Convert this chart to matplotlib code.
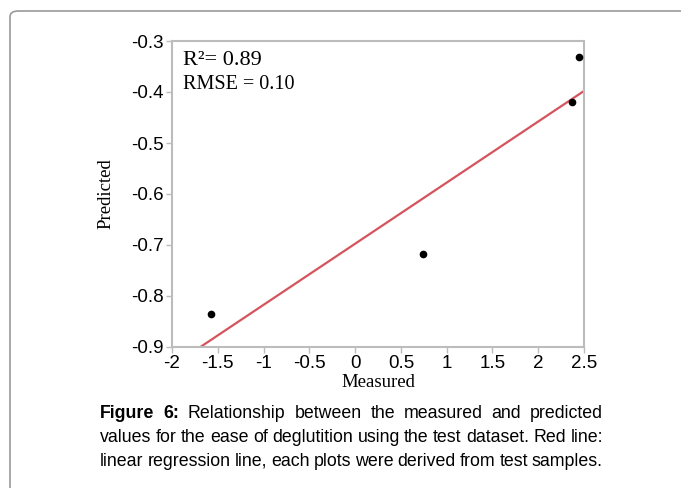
import matplotlib
matplotlib.use('Agg')
import matplotlib.pyplot as plt
from matplotlib.patches import FancyBboxPatch

# measured vs predicted (test samples)
measured = [-1.57, 0.74, 2.37, 2.44]
predicted = [-0.835, -0.717, -0.420, -0.331]

# regression line drawn across the plot
line_x = [-1.69, 2.5]
line_y = [-0.90, -0.398]

xticks = [-2, -1.5, -1, -0.5, 0, 0.5, 1, 1.5, 2, 2.5]
yticks = [-0.9, -0.8, -0.7, -0.6, -0.5, -0.4, -0.3]

caption = [
    "Figure 6: Relationship between the measured and predicted",
    "values for the ease of deglutition using the test dataset. Red line:",
    "linear regression line, each plots were derived from test samples.",
]

W, H = 681, 488
fig = plt.figure(figsize=(W / 100, H / 100), dpi=100)

# rounded frame round the figure (right and bottom edges off the picture)
frame = FancyBboxPatch((10 / W, -0.2), 1.2, 1.2 - 11 / H,
                       boxstyle="round,pad=0,rounding_size=0.012",
                       transform=fig.transFigure, fill=False,
                       edgecolor='#9a9a9a', linewidth=1.2)
fig.patches.append(frame)

ax = fig.add_axes([172 / W, 1 - 347 / H, 412 / W, 306 / H])
ax.plot(line_x, line_y, color='#d4545e', linewidth=1.6, zorder=2)
ax.plot(measured, predicted, 'o', color='black', markersize=4.5, zorder=3)

ax.set_xlim(-2, 2.5)
ax.set_ylim(-0.9, -0.3)
ax.set_xticks(xticks)
ax.set_xticklabels([f"{t:g}" for t in xticks])
ax.set_yticks(yticks)
ax.set_yticklabels([f"{t:g}" for t in yticks])

for s in ax.spines.values():
    s.set_color('#bcbcbc')
    s.set_linewidth(1.5)
ax.tick_params(direction='out', length=4, width=1, color='#bcbcbc',
               labelsize=13.5, pad=2)
for lab in ax.get_xticklabels() + ax.get_yticklabels():
    lab.set_family('Liberation Sans')

ax.set_xlabel('Measured', family='Liberation Serif', fontsize=13.5, labelpad=1)
ax.set_ylabel('Predicted', family='Liberation Serif', fontsize=13.5, labelpad=12)

fig.text(183 / W, 1 - 65 / H, 'R\u00b2= 0.89', family='Liberation Serif',
         fontsize=16, va='baseline')
fig.text(183 / W, 1 - 89 / H, 'RMSE = 0.10', family='Liberation Serif',
         fontsize=14.5, va='baseline')

# caption, justified between x0 and x1 (pixels)
x0, x1 = 100, 603
baselines = [418, 442, 466]
r = fig.canvas.get_renderer()
for i, line in enumerate(caption):
    words = line.split(' ')
    arts = []
    for j, w in enumerate(words):
        bold = (i == 0 and j < 2)
        t = fig.text(0, 1 - baselines[i] / H, w, family='Liberation Sans',
                     fontsize=12.8, fontweight='bold' if bold else 'normal',
                     va='baseline')
        arts.append(t)
    widths = [a.get_window_extent(r).width for a in arts]
    gap = (x1 - x0 - sum(widths)) / (len(arts) - 1)
    x = x0
    for a, wd in zip(arts, widths):
        a.set_x(x / W)
        x += wd + gap

fig.savefig('out.png', dpi=100)
